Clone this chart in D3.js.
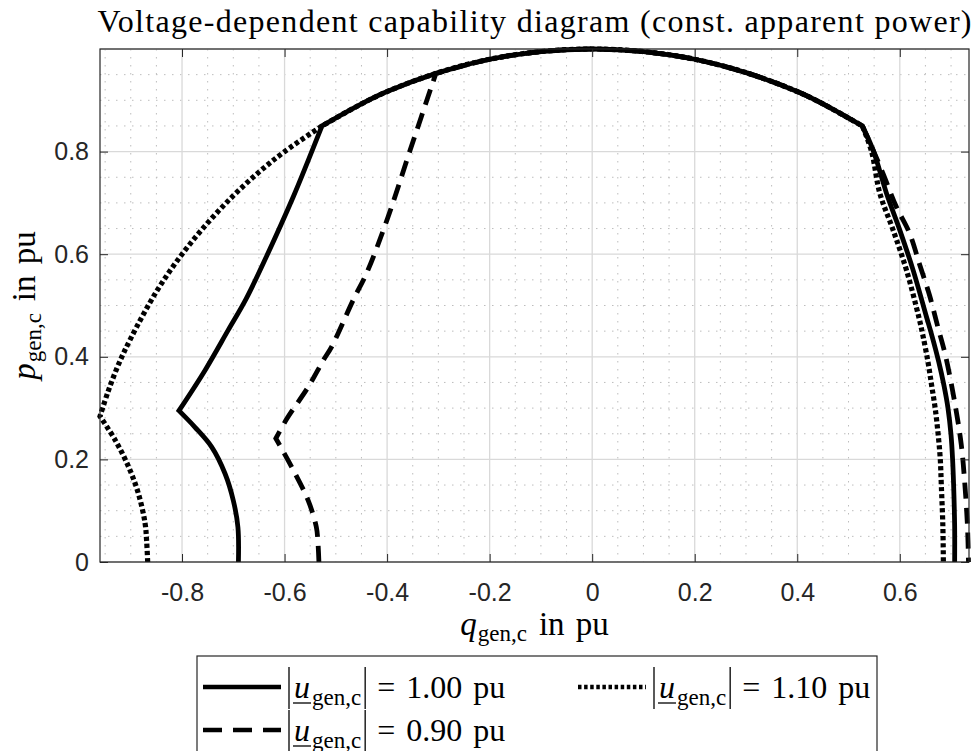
<!DOCTYPE html>
<html>
<head>
<meta charset="utf-8">
<script src="https://cdn.jsdelivr.net/npm/d3@7"></script>
<style>
  body { margin: 0; background: #fff; }
  .tick text { font-family: "Liberation Sans", Arial, sans-serif; font-size: 25px; fill: #262626; }
  .tick line { stroke: #262626; }
  .tex { font-family: "Liberation Serif", "Times New Roman", serif; fill: #000; }
</style>
</head>
<body>
<svg id="chart" width="975" height="751"></svg>
<script>
// capability diagram, values (q, p in pu)
var qTicks = [-0.8, -0.6, -0.4, -0.2, 0, 0.2, 0.4, 0.6];
var pTicks = [0, 0.2, 0.4, 0.6, 0.8];
var qLimits = [-0.96, 0.735];
var pLimits = [0, 1];

// shared apparent power arc (top)
var topArc = [[-0.527, 0.85], [-0.45, 0.893], [-0.4, 0.917], [-0.3, 0.954], [-0.2, 0.98],
  [-0.1, 0.995], [0, 1.0], [0.1, 0.995], [0.2, 0.98], [0.3, 0.954], [0.4, 0.917],
  [0.45, 0.893], [0.527, 0.85]];

// |u| = 1.00 pu
var solidLow = [[-0.690, 0], [-0.691, 0.068], [-0.700, 0.120], [-0.716, 0.172], [-0.742, 0.224],
  [-0.775, 0.263], [-0.806, 0.295]];
var solidUp = [[-0.806, 0.295], [-0.755, 0.374], [-0.710, 0.452], [-0.675, 0.513],
  [-0.636, 0.594], [-0.583, 0.712], [-0.555, 0.78], [-0.527, 0.85]];
var solidRight = [[0.527, 0.85], [0.548, 0.803], [0.574, 0.719], [0.600, 0.647], [0.626, 0.569],
  [0.652, 0.478], [0.663, 0.44], [0.676, 0.39], [0.686, 0.345], [0.694, 0.30], [0.700, 0.247],
  [0.703, 0.2], [0.705, 0.150], [0.707, 0.07], [0.707, 0]];

// |u| = 1.10 pu
var dottedLow = [[-0.867, 0], [-0.869, 0.04], [-0.872, 0.075], [-0.885, 0.133], [-0.904, 0.185],
  [-0.930, 0.237], [-0.960, 0.284]];
var dottedUp = [[-0.960, 0.284], [-0.945, 0.33], [-0.924, 0.385], [-0.9, 0.436],
  [-0.85, 0.527], [-0.8, 0.6], [-0.75, 0.661], [-0.7, 0.714], [-0.65, 0.76], [-0.6, 0.8],
  [-0.527, 0.85]];
var dottedRight = [[0.527, 0.85], [0.545, 0.80], [0.561, 0.719], [0.587, 0.647], [0.613, 0.569],
  [0.637, 0.478], [0.645, 0.442], [0.655, 0.39], [0.662, 0.345], [0.669, 0.30], [0.675, 0.247],
  [0.679, 0.2], [0.681, 0.150], [0.684, 0.07], [0.685, 0]];

// |u| = 0.90 pu
var dashedLow = [[-0.533, 0], [-0.535, 0.04], [-0.538, 0.068], [-0.554, 0.120], [-0.586, 0.185],
  [-0.617, 0.241]];
var dashedUp = [[-0.617, 0.241], [-0.595, 0.28], [-0.554, 0.341], [-0.524, 0.394], [-0.508, 0.42],
  [-0.466, 0.511], [-0.440, 0.563], [-0.398, 0.673], [-0.355, 0.803], [-0.305, 0.952]];
var dashedArc = [[-0.305, 0.952], [-0.2, 0.98], [-0.1, 0.995], [0, 1.0], [0.1, 0.995], [0.2, 0.98],
  [0.3, 0.954], [0.4, 0.917], [0.45, 0.893], [0.527, 0.85]];
var dashedRight = [[0.527, 0.85], [0.545, 0.81], [0.567, 0.758], [0.593, 0.693], [0.619, 0.641],
  [0.639, 0.579], [0.658, 0.520], [0.674, 0.459], [0.689, 0.403], [0.707, 0.312],
  [0.720, 0.228], [0.727, 0.150], [0.732, 0.07], [0.734, 0]];

var labels = ["1.00", "1.10", "0.90"];

(function() {
  var series = [
    { name: labels[2], parts: [dashedLow, dashedUp, dashedArc, dashedRight], dash: "16,9", w: 4.8 },
    { name: labels[1], parts: [dottedLow, dottedUp, topArc, dottedRight], dash: "4.2,2.8", w: 5.2 },
    { name: labels[0], parts: [solidLow, solidUp, topArc, solidRight], dash: null, w: 4.8 }
  ];

  var svg = d3.select("#chart");
  var pl = 100, pr = 969, pt = 49, pb = 562;

  var x = d3.scaleLinear().domain(qLimits).range([pl, pr]);
  var y = d3.scaleLinear().domain(pLimits).range([pb, pt]);

  svg.append("rect").attr("width", 975).attr("height", 751).attr("fill", "#fff");

  // minor grid every 0.05
  var minorQ = d3.range(-0.95, 0.74, 0.05).filter(function(v) {
    return Math.abs(v * 5 - Math.round(v * 5)) > 0.01;
  });
  var minorP = d3.range(0.05, 1.0, 0.05).filter(function(v) {
    return Math.abs(v * 5 - Math.round(v * 5)) > 0.01;
  });

  var grid = svg.append("g");
  grid.selectAll(".mx").data(minorQ).join("line")
    .attr("x1", function(d) { return x(d); }).attr("x2", function(d) { return x(d); })
    .attr("y1", pt).attr("y2", pb)
    .attr("stroke", "#bdbdbd").attr("stroke-width", 1).attr("stroke-dasharray", "1.5,6.5");
  grid.selectAll(".my").data(minorP).join("line")
    .attr("y1", function(d) { return y(d); }).attr("y2", function(d) { return y(d); })
    .attr("x1", pl).attr("x2", pr)
    .attr("stroke", "#bdbdbd").attr("stroke-width", 1).attr("stroke-dasharray", "1.5,6.5");
  grid.selectAll(".gx").data(qTicks).join("line")
    .attr("x1", function(d) { return x(d); }).attr("x2", function(d) { return x(d); })
    .attr("y1", pt).attr("y2", pb)
    .attr("stroke", "#d9d9d9").attr("stroke-width", 1.3);
  grid.selectAll(".gy").data(pTicks.concat([1.0])).join("line")
    .attr("y1", function(d) { return y(d); }).attr("y2", function(d) { return y(d); })
    .attr("x1", pl).attr("x2", pr)
    .attr("stroke", "#d9d9d9").attr("stroke-width", 1.3);

  // curves: each branch smoothed on its own, corners kept sharp, joined into one path
  var line = d3.line()
    .x(function(d) { return x(d[0]); })
    .y(function(d) { return y(d[1]); })
    .curve(d3.curveCatmullRom.alpha(0.5));
  function joined(parts) {
    return parts.map(function(p, i) {
      var s = line(p);
      return i === 0 ? s : "L" + s.slice(1);
    }).join("");
  }

  svg.append("g").selectAll("path")
    .data(series)
    .join("path")
    .attr("d", function(d) { return joined(d.parts); })
    .attr("fill", "none")
    .attr("stroke", "#000")
    .attr("stroke-width", function(d) { return d.w; })
    .attr("stroke-linejoin", "miter")
    .attr("stroke-dasharray", function(d) { return d.dash; });

  // axes (ticks inward on all four sides)
  var fmt = function(d) { return d === 0 ? "0" : d.toFixed(1); };
  svg.append("g").attr("transform", "translate(0," + pb + ")")
    .call(d3.axisBottom(x).tickValues(qTicks).tickSize(-8).tickPadding(21).tickFormat(fmt))
    .call(function(g) { g.select(".domain").remove(); });
  svg.append("g").attr("transform", "translate(" + pl + ",0)")
    .call(d3.axisLeft(y).tickValues(pTicks).tickSize(-8).tickPadding(11).tickFormat(fmt))
    .call(function(g) { g.select(".domain").remove(); });
  svg.append("g").attr("transform", "translate(0," + pt + ")")
    .call(d3.axisTop(x).tickValues(qTicks).tickSize(-8).tickFormat(""))
    .call(function(g) { g.select(".domain").remove(); });
  svg.append("g").attr("transform", "translate(" + pr + ",0)")
    .call(d3.axisRight(y).tickValues(pTicks).tickSize(-8).tickFormat(""))
    .call(function(g) { g.select(".domain").remove(); });

  svg.append("rect")
    .attr("x", pl).attr("y", pt).attr("width", pr - pl).attr("height", pb - pt)
    .attr("fill", "none").attr("stroke", "#262626").attr("stroke-width", 1.2);

  // title
  svg.append("text").attr("class", "tex")
    .attr("x", (pl + pr) / 2).attr("y", 32)
    .attr("text-anchor", "middle")
    .attr("font-size", 32)
    .attr("textLength", 874).attr("lengthAdjust", "spacing")
    .text("Voltage-dependent capability diagram (const. apparent power)");

  // x label
  var xl = svg.append("text").attr("class", "tex")
    .attr("x", (pl + pr) / 2).attr("y", 635)
    .attr("text-anchor", "middle").attr("font-size", 33);
  xl.append("tspan").attr("font-style", "italic").text("q");
  xl.append("tspan").attr("font-size", 23).attr("dy", 6).attr("dx", 1).text("gen,c");
  xl.append("tspan").attr("dy", -6).attr("dx", 12).attr("word-spacing", 3).text("in pu");

  // y label
  var yl = svg.append("text").attr("class", "tex")
    .attr("transform", "translate(35," + ((pt + pb) / 2) + ") rotate(-90)")
    .attr("text-anchor", "middle").attr("font-size", 33);
  yl.append("tspan").attr("font-style", "italic").text("p");
  yl.append("tspan").attr("font-size", 23).attr("dy", 6).attr("dx", 1).text("gen,c");
  yl.append("tspan").attr("dy", -6).attr("dx", 12).attr("word-spacing", 3).text("in pu");

  // legend
  var lg = svg.append("g");
  lg.append("rect").attr("x", 197).attr("y", 656).attr("width", 680).attr("height", 140)
    .attr("fill", "#fff").attr("stroke", "#262626").attr("stroke-width", 1.2);

  function legendLabel(x0, base, value) {
    var g = lg.append("g");
    g.append("line").attr("x1", x0 + 1).attr("x2", x0 + 1)
      .attr("y1", base - 31).attr("y2", base + 11).attr("stroke", "#000").attr("stroke-width", 1.3);
    var u = g.append("text").attr("class", "tex").attr("x", x0 + 6).attr("y", base)
      .attr("font-size", 32).attr("font-style", "italic").text("u");
    var wu = u.node().getComputedTextLength();
    g.append("line").attr("x1", x0 + 5).attr("x2", x0 + 7 + wu)
      .attr("y1", base + 5).attr("y2", base + 5).attr("stroke", "#000").attr("stroke-width", 1.3);
    var s = g.append("text").attr("class", "tex").attr("x", x0 + 8 + wu).attr("y", base + 7)
      .attr("font-size", 23).text("gen,c");
    var ws = s.node().getComputedTextLength();
    var bx = x0 + 12 + wu + ws;
    g.append("line").attr("x1", bx).attr("x2", bx)
      .attr("y1", base - 31).attr("y2", base + 11).attr("stroke", "#000").attr("stroke-width", 1.3);
    g.append("text").attr("class", "tex").attr("x", bx + 12).attr("y", base)
      .attr("font-size", 32).attr("word-spacing", 3).text("= " + value + " pu");
  }

  var rows = [
    { x: 203, y: 687, len: 78, dash: null, label: labels[0] },
    { x: 578, y: 687, len: 68, dash: "3.5,2.6", label: labels[1] },
    { x: 203, y: 730, len: 78, dash: "19,11", label: labels[2] }
  ];
  rows.forEach(function(r) {
    lg.append("line").attr("x1", r.x).attr("x2", r.x + r.len)
      .attr("y1", r.y).attr("y2", r.y)
      .attr("stroke", "#000").attr("stroke-width", 4.6)
      .attr("stroke-dasharray", r.dash);
    legendLabel(r.x + r.len + 7, r.y + 11, r.label);
  });
})();
</script>
</body>
</html>
